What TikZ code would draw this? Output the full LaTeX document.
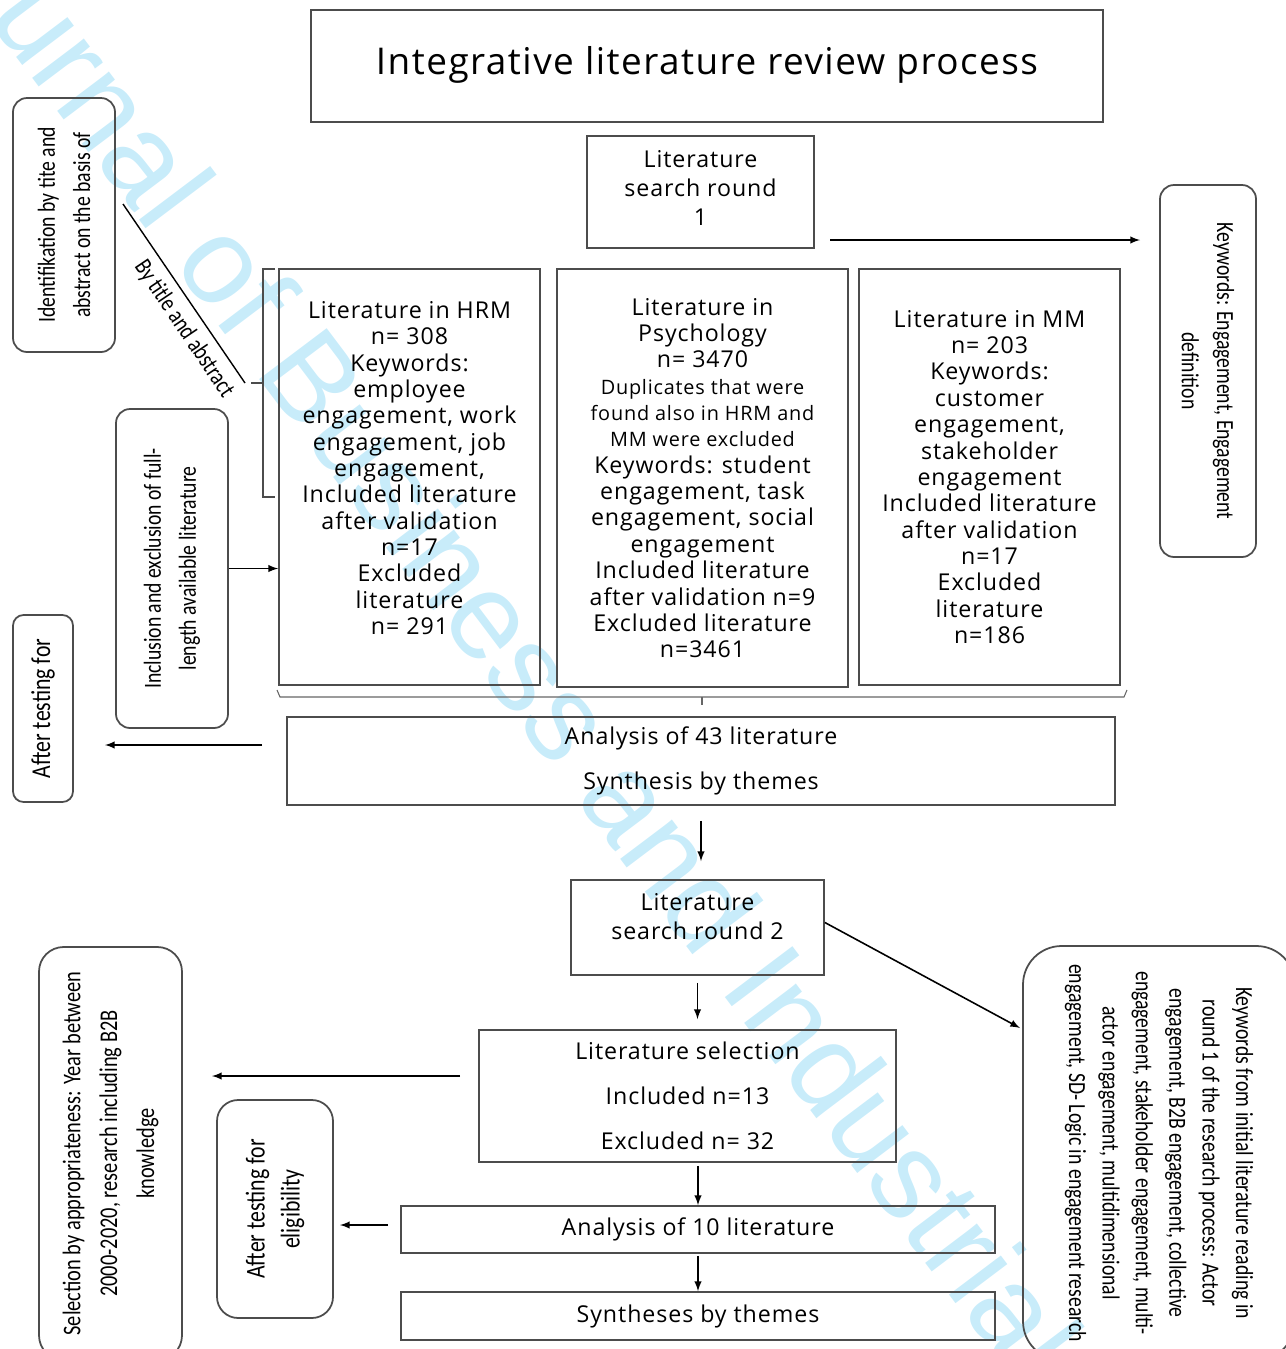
\documentclass[tikz,border=0pt]{standalone}
\usepackage{fontspec}
\setmainfont[LetterSpace=4]{Open Sans}
\newfontfamily\narrowfont[FakeStretch=0.8]{Carlito}
\newfontfamily\wmfont{Liberation Sans}
\definecolor{wmark}{RGB}{200,236,250}

\begin{document}
\begin{tikzpicture}[x=0.02cm, y=-0.02cm,
   sz/.style 2 args={minimum width=#1*0.02cm, minimum height=#2*0.02cm},
   box/.style={draw=black!70, line width=1pt, inner sep=0pt, align=center,
      font=\fontsize{13.2}{15}\selectfont},
   side/.style={box, rounded corners=8pt, font=\narrowfont\fontsize{14}{20}\selectfont},
   arr/.style={-latex, line width=0.9pt}]
   \useasboundingbox (0,0) rectangle (1285,1349);
   % watermark
   \begin{scope}
      \clip (0,0) rectangle (1285,1349);
      \node[anchor=base west, rotate=-53, text=wmark, inner sep=0pt,
         font=\wmfont\fontsize{70}{70}\selectfont] (wm) at (-92,-87)
         {Journal of Business and Industrial Marketing};
   \end{scope}
   % round 1
   \node[box, sz={792}{112}, font=\fontsize{21}{24}\selectfont] (title) at (707,66)
      {Integrative literature review process\\[-18pt]};
   \node[box, sz={227}{112}, font=\fontsize{13.2}{16.4}\selectfont] (round1) at (700.5,192)
      {Literature\\ search round\\ 1\\[-12pt]};
   \node[side, rotate=-90, sz={372}{96}] (kw1) at (1208,371)
      {Keywords: Engagement, Engagement\\ definition};
   \node[box, sz={261}{416}] (hrm) at (409.5,477)
      {Literature in HRM\\ n= 308\\ Keywords:\\ employee\\ engagement, work\\
       engagement, job\\ engagement,\\ Included literature\\ after validation\\
       n=17\\ Excluded\\ literature\\ n= 291\\[-4.8pt]};
   \node[box, sz={291}{418}] (psy) at (702.5,478)
      {Literature in\\ Psychology\\ n= 3470\\
       {\fontsize{11.3}{13.6}\selectfont Duplicates that were}\\
       {\fontsize{11.3}{13.6}\selectfont found also in HRM and}\\
       {\fontsize{11.3}{13.6}\selectfont MM were excluded}\\
       Keywords: student\\ engagement, task\\ engagement, social\\ engagement\\
       Included literature\\ after validation n=9\\ Excluded literature\\ n=3461};
   \node[box, sz={261}{416}] (mm) at (989.5,477)
      {Literature in MM\\ n= 203\\ Keywords:\\ customer\\ engagement,\\
       stakeholder\\ engagement\\ Included literature\\ after validation\\
       n=17\\ Excluded\\ literature\\ n=186};
   \node[side, rotate=90, sz={254}{102}] (ident) at (64,225)
      {Identifikation by tite and\\ abstract on the basis of};
   \node[side, rotate=90, sz={319}{112}] (incl) at (172,568.5)
      {Inclusion and exclusion of full-\\ length available literature};
   \node[side, rotate=90, sz={187}{60}, rounded corners=6pt,
      font=\narrowfont\fontsize{15.5}{20}\selectfont] (after1) at (43,708.5)
      {After testing for};
   \node[box, sz={828}{88}] (ana43) at (701,761)
      {Analysis of 43 literature\\[10.5pt] Synthesis by themes};
   % bracket and brace
   \draw[line width=0.8pt, black!70] (275,269) -- (263,269) -- (263,497) -- (275,497);
   \draw[line width=0.8pt, black!70] (263,383) -- (251,383);
   \draw[line width=0.8pt] (123,204) -- (245,383);
   \node[rotate=-56, font=\narrowfont\fontsize{14}{16}\selectfont] (bytitle) at (184,329)
      {By title and abstract};
   \draw[line width=0.6pt, black!60] (277,690) -- (280,697) -- (1124,697) -- (1127,690);
   \draw[line width=0.6pt, black!60] (702,697) -- (702,705);
   % round 2
   \node[box, sz={253}{95}, font=\fontsize{13.2}{16.4}\selectfont] (round2) at (697.5,927.5)
      {Literature\\ search round 2\\[-3.4pt]};
   \node[side, rotate=-90, sz={414}{272}, rounded corners=22pt,
      font=\narrowfont\fontsize{14}{19}\selectfont] (kw2) at (1159,1153)
      {Keywords from initial literature reading in\\ round 1 of the research process: Actor\\
       engagement, B2B engagement, collective\\ engagement, stakeholder engagement, multi-\\
       actor engagement, multidimensional\\ engagement, SD- Logic in engagement research};
   \node[box, sz={417}{132}] (litsel) at (687.5,1096)
      {Literature selection\\[10.5pt] Included n=13\\[10.5pt] Excluded n= 32};
   \node[side, rotate=90, sz={413}{143}, rounded corners=14pt,
      font=\narrowfont\fontsize{14.5}{21}\selectfont] (select) at (110.5,1153.5)
      {Selection by appropriateness: Year between\\ 2000-2020, research including B2B\\ knowledge};
   \node[side, rotate=90, sz={218}{116}, rounded corners=12pt,
      font=\narrowfont\fontsize{15.5}{20}\selectfont] (elig) at (275,1209)
      {After testing for\\ eligibility};
   \node[box, sz={594}{47}] (ana10) at (698,1229.5) {Analysis of 10 literature};
   \node[box, sz={594}{48}] (synth) at (698,1316) {Syntheses by themes};
   % free ends
   \coordinate (k1a) at (830,240);
   \coordinate (k1b) at (1140,240);
   \coordinate (t1a) at (262,745);
   \coordinate (t1b) at (105,745);
   \coordinate (k2b) at (1020,1028);
   \coordinate (s1a) at (460,1076);
   \coordinate (s1b) at (212,1076);
   \coordinate (e1a) at (388,1225);
   \coordinate (e1b) at (340,1225);
   % arrows
   \draw[arr] (k1a) -- (k1b);
   \draw[arr] (incl.south) -- (incl.south -| hrm.west);
   \draw[arr] (t1a) -- (t1b);
   \draw[arr, shorten <=0.3cm, shorten >=0.36cm] (ana43.south) -- (ana43.south |- round2.north);
   \draw[arr] ([yshift=0.1cm]round2.east) -- (k2b);
   \draw[arr, shorten <=0.14cm, shorten >=0.2cm] (round2.south) -- (round2.south |- litsel.north);
   \draw[arr] (s1a) -- (s1b);
   \draw[arr, shorten <=0.06cm] (ana10.north |- litsel.south) -- (ana10.north);
   \draw[arr] (e1a) -- (e1b);
   \draw[arr, shorten <=0.04cm] (ana10.south) -- (synth.north);
\end{tikzpicture}
\end{document}
